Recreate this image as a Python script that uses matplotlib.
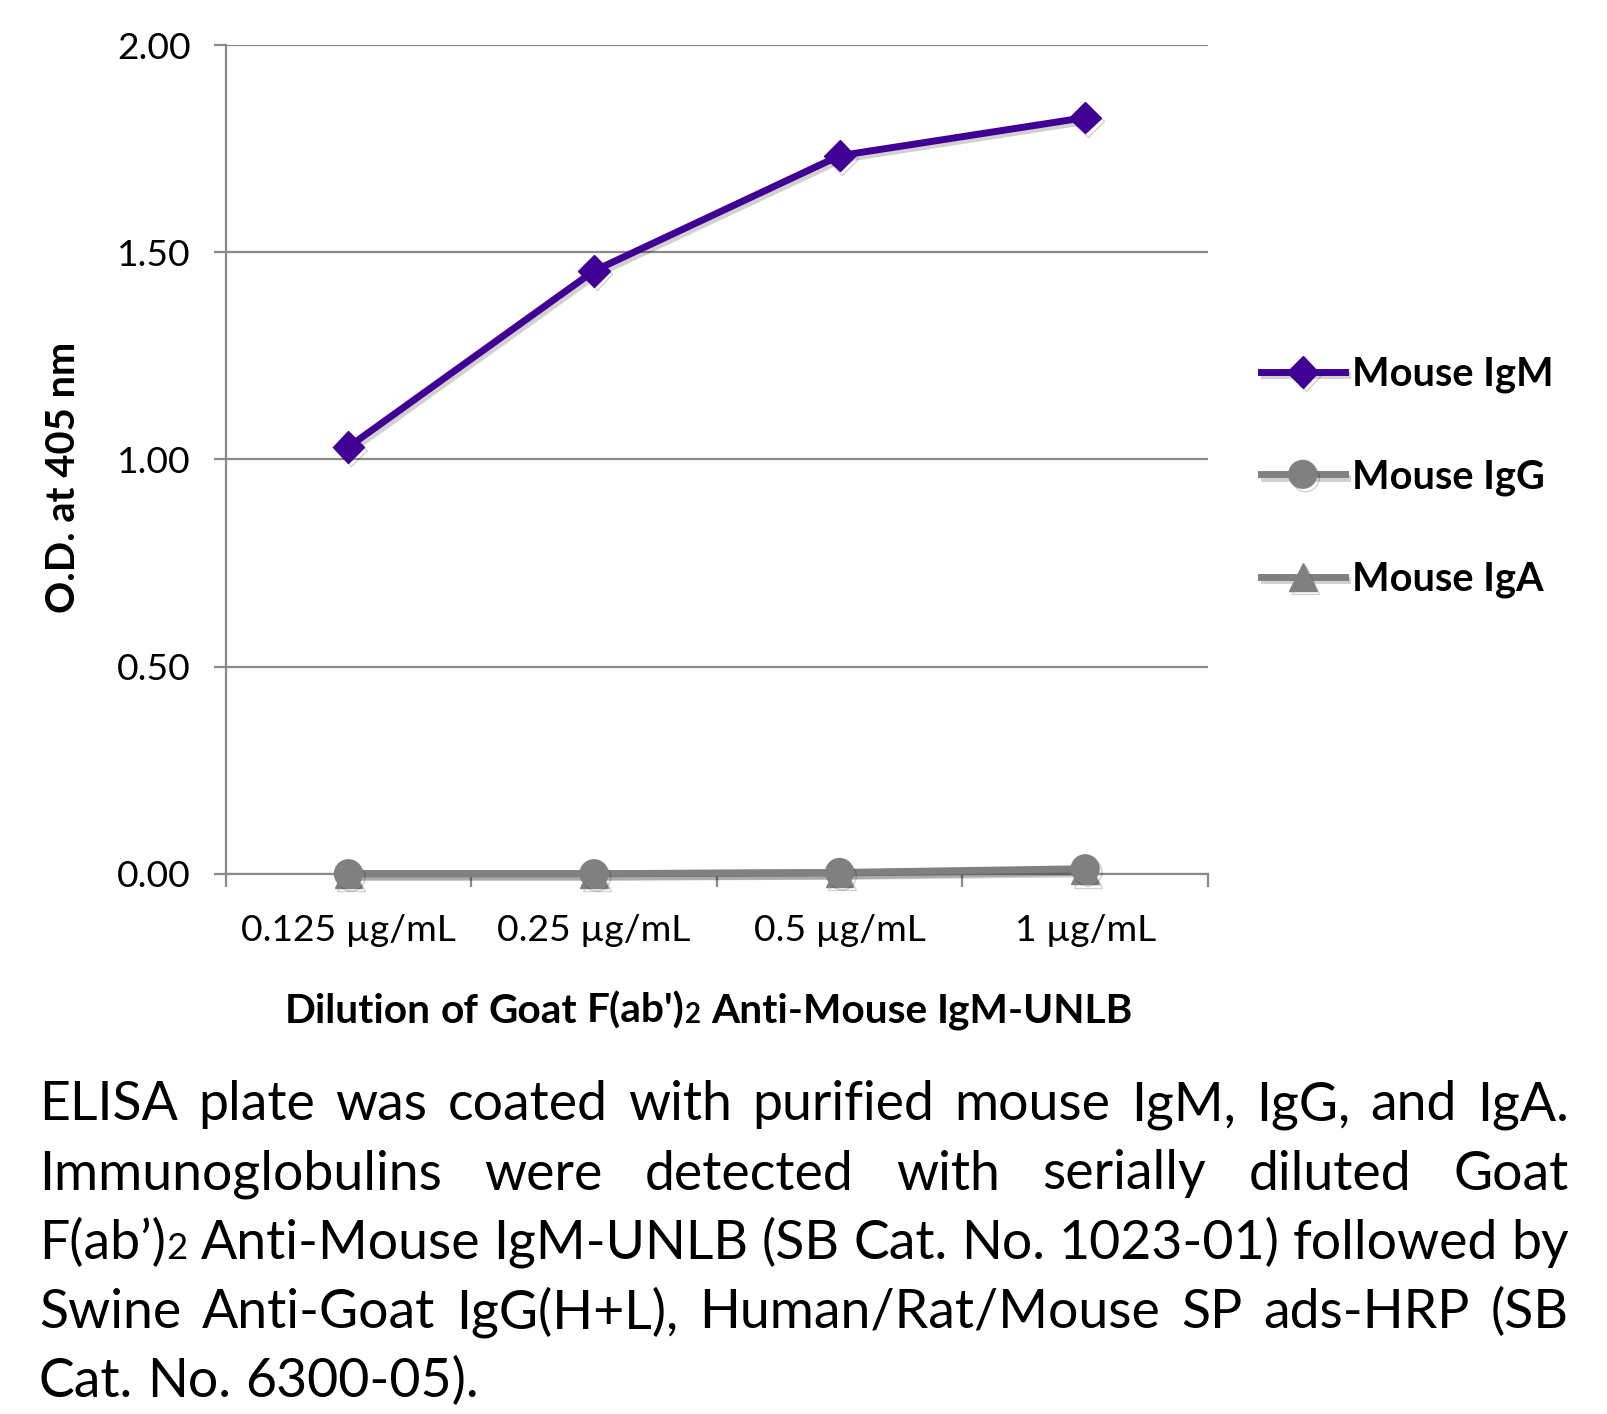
import matplotlib
matplotlib.use("Agg")
import matplotlib.pyplot as plt
import matplotlib.patheffects as pe
from matplotlib.ticker import FormatStrFormatter
import numpy as np

# data
dilutions = ["0.125 µg/mL", "0.25 µg/mL", "0.5 µg/mL", "1 µg/mL"]
mouse_igm = [1.03, 1.455, 1.733, 1.825]
mouse_igg = [0.0, 0.0, 0.003, 0.012]
mouse_iga = [0.0, 0.0, 0.002, 0.008]
y_ticks = [0.0, 0.5, 1.0, 1.5, 2.0]

caption_lines = [
    "ELISA plate was coated with purified mouse IgM, IgG, and IgA.",
    "Immunoglobulins were detected with serially diluted Goat",
    "F(ab’)_2 Anti-Mouse IgM-UNLB (SB Cat. No. 1023-01) followed by",
    "Swine Anti-Goat IgG(H+L), Human/Rat/Mouse SP ads-HRP (SB",
    "Cat. No. 6300-05).",
]
x_label = "Dilution of Goat F(ab')_2 Anti-Mouse IgM-UNLB"
y_label = "O.D. at 405 nm"

FONT = "Lato"
PURPLE = "#400094"
GREY = "#808080"
GRIDC = "#8a8a8a"
FW, FH = 1608, 1414
SUB = 0.68

fig = plt.figure(figsize=(FW / 100, FH / 100), dpi=100)
renderer = fig.canvas.get_renderer()


def text_w(s, size, weight="normal"):
    t = fig.text(0, 0, s, fontsize=size, family=FONT, weight=weight)
    w = t.get_window_extent(renderer).width
    t.remove()
    return w


def space_w(size, weight="normal"):
    return text_w("x x", size, weight) - text_w("xx", size, weight)


def pieces(word):
    # "_" marks a small subscript-like tail, e.g. F(ab')_2
    if "_" in word:
        a, b = word.split("_")
        return [(a, 1.0), (b, SUB)]
    return [(word, 1.0)]


def word_w(word, size, weight="normal"):
    return sum(text_w(p, size * k, weight) for p, k in pieces(word))


def line_w(words, size, weight="normal"):
    return sum(word_w(w, size, weight) for w in words) + space_w(size, weight) * (len(words) - 1)


def draw_words(words, x, y, size, gap, weight="normal"):
    for w in words:
        for p, k in pieces(w):
            fig.text(x / FW, 1 - y / FH, p, fontsize=size * k, family=FONT,
                     weight=weight, ha="left", va="baseline")
            x += text_w(p, size * k, weight)
        x += gap


# ---- chart ----
ax = fig.add_axes([225.6 / FW, 1 - 873.7 / FH, (1208 - 225.6) / FW, (873.7 - 45.1) / FH])
xs = np.arange(len(dilutions))
shadow = [pe.SimpleLineShadow(offset=(2, -2.5), shadow_color="k", alpha=0.18), pe.Normal()]

ax.plot(xs, mouse_iga, color=GREY, lw=5, marker="^", ms=20, clip_on=False,
        path_effects=shadow, zorder=3, label="Mouse IgA")
ax.plot(xs, mouse_igg, color=GREY, lw=5, marker="o", ms=20, clip_on=False,
        path_effects=shadow, zorder=4, label="Mouse IgG")
ax.plot(xs, mouse_igm, color=PURPLE, lw=5, marker="D", ms=16, clip_on=False,
        path_effects=shadow, zorder=5, label="Mouse IgM")

ax.set_xlim(-0.5, len(dilutions) - 0.5)
ax.set_ylim(0, 2)
ax.set_yticks(y_ticks)
ax.yaxis.set_major_formatter(FormatStrFormatter("%.2f"))
ax.set_xticks(xs)
ax.set_xticklabels(dilutions)
ax.set_xticks(np.arange(-0.5, len(dilutions), 1), minor=True)
ax.yaxis.grid(True, color=GRIDC, lw=1.6)
ax.set_axisbelow(True)
for s in ["top", "right"]:
    ax.spines[s].set_visible(False)
for s in ["left", "bottom"]:
    ax.spines[s].set_color(GRIDC)
    ax.spines[s].set_linewidth(1.6)

tick_size = 27 * 215 / text_w("0.125 µg/mL", 27)
ax.tick_params(axis="x", which="major", length=0, pad=29, labelsize=tick_size)
ax.tick_params(axis="x", which="minor", length=9, width=1.6, color=GRIDC, direction="out")
ax.tick_params(axis="y", length=9, width=1.6, color=GRIDC, pad=16, labelsize=tick_size)
for lab in ax.get_xticklabels() + ax.get_yticklabels():
    lab.set_family(FONT)

# axis titles
xl_words = x_label.split()
xl_size = 26 * 847 / line_w(xl_words, 26, "bold")
xl_total = line_w(xl_words, xl_size, "bold")
draw_words(xl_words, 709 - xl_total / 2, 1023, xl_size, space_w(xl_size, "bold"), "bold")

yl = fig.text(64 / FW, 1 - 477 / FH, y_label, rotation=90, ha="center", va="center",
              family=FONT, weight="bold", fontsize=26)
yl.set_fontsize(26 * 271 / yl.get_window_extent(renderer).height)

# legend
leg_size = 26 * 201 / text_w("Mouse IgM", 26, "bold")
handles, labels = ax.get_legend_handles_labels()
fig.legend(handles[::-1], labels[::-1], loc="center left",
           bbox_to_anchor=(1261 / FW, 1 - 477 / FH), frameon=False,
           borderpad=0, borderaxespad=0, handlelength=2.1, handletextpad=0.2,
           labelspacing=1.63, prop={"family": FONT, "weight": "bold", "size": leg_size})

# caption, justified; size chosen so the longest line still fits with normal spaces
left, right = 39, 1569
cap_size = 30 * min((right - left) / line_w(l.split(), 30) for l in caption_lines[:-1])
baselines = [1120, 1189.5, 1259, 1328, 1397]
for i, line in enumerate(caption_lines):
    words = line.split()
    if i < len(caption_lines) - 1:
        gap = (right - left - sum(word_w(w, cap_size) for w in words)) / (len(words) - 1)
    else:
        gap = space_w(cap_size)
    draw_words(words, left, baselines[i], cap_size, gap)

fig.savefig("out.png", dpi=100)
